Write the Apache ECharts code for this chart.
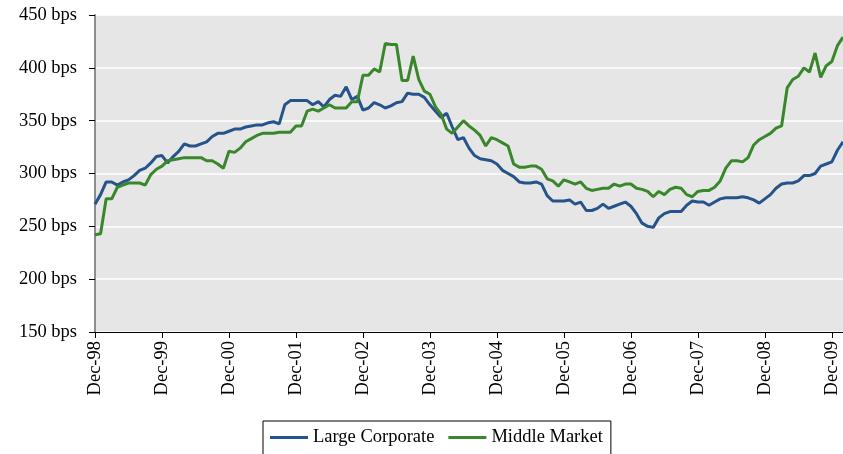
<!DOCTYPE html>
<html>
<head>
<meta charset="utf-8">
<script src="https://cdn.jsdelivr.net/npm/echarts@6/dist/echarts.min.js"></script>
<style>
html,body{margin:0;padding:0;background:#fff;}
#c{width:843px;height:454px;}
</style>
</head>
<body>
<div id="c"></div>
<script>
// Monthly series, Dec-98 .. Feb-10
var startYear = 1998, startMonth = 11; // December 1998
var monthNames = ['Jan','Feb','Mar','Apr','May','Jun','Jul','Aug','Sep','Oct','Nov','Dec'];
var yTicks = [150, 200, 250, 300, 350, 400, 450];
var seriesNames = ['Large Corporate', 'Middle Market'];

var largeCorporate = [
  271, 280, 292, 292, 289, 292, 294, 298, 303, 305, 310, 316, 317, 310, 316, 321, 328, 326, 326, 328,
  330, 335, 338, 338, 340, 342, 342, 344, 345, 346, 346, 348, 349, 347, 365,
  369, 369, 369, 369, 365, 368, 363, 370, 374, 373, 382, 370, 373, 360, 362, 367, 365, 362, 364, 367,
  368, 376, 375, 375, 372, 365, 359, 353, 357, 344, 332, 334, 324,
  317, 314, 313, 312, 309, 303, 300, 297, 292, 291, 291, 292, 290, 279, 274, 274, 274, 275, 271, 273,
  265, 265, 267, 271, 267, 269, 271, 273, 269, 262, 253, 250,
  249, 258, 262, 264, 264, 264, 270, 274, 273, 273, 270, 273, 276, 277, 277, 277, 278, 277, 275, 272,
  276, 280, 286, 290, 291, 291, 293, 298, 298, 300, 307, 309, 311, 322, 330
];
var middleMarket = [
  242, 243, 276, 276, 287, 289, 291, 291, 291, 289, 299, 304, 307, 312, 313, 314, 315, 315, 315, 315,
  312, 312, 309, 305, 321, 320, 324, 330, 333, 336, 338, 338, 338, 339, 339,
  339, 345, 345, 359, 361, 359, 362, 365, 362, 362, 362, 368, 368, 393, 393, 399, 396, 423, 422, 422,
  388, 388, 411, 389, 378, 375, 363, 356, 342, 338, 344, 350, 345,
  341, 336, 326, 334, 332, 329, 326, 309, 306, 306, 307, 307, 304, 295, 293, 288, 294, 292, 290, 292,
  286, 284, 285, 286, 286, 290, 288, 290, 290, 286, 285, 283,
  278, 283, 280, 285, 287, 286, 280, 278, 283, 284, 284, 287, 293, 305, 312, 312, 311, 315, 327, 332,
  335, 338, 343, 345, 381, 389, 392, 400, 396, 414, 391, 402, 406, 421, 429
];

var categories = [];
for (var k = 0; k < largeCorporate.length; k++) {
  var m = (startMonth + k) % 12;
  var y = startYear + Math.floor((startMonth + k) / 12);
  categories.push(monthNames[m] + '-' + String(y % 100).padStart(2, '0'));
}

var FONT = '"Liberation Serif", "Times New Roman", serif';
var chart = echarts.init(document.getElementById('c'), null, {renderer: 'canvas'});
chart.setOption({
  animation: false,
  grid: {
    left: 95, right: 0, top: 15, bottom: 122,
    show: true, backgroundColor: '#e6e6e6', borderWidth: 0
  },
  legend: {
    data: seriesNames,
    left: 263, top: 421,
    padding: [7, 8, 12, 7],
    borderColor: '#000', borderWidth: 1,
    icon: 'rect', itemWidth: 38, itemHeight: 3, itemGap: 14,
    textStyle: {fontFamily: FONT, fontSize: 18.5, color: '#000'}
  },
  xAxis: {
    type: 'category',
    data: categories,
    boundaryGap: false,
    axisLine: {show: true, lineStyle: {color: '#000', width: 1}},
    axisTick: {show: true, length: 6, lineStyle: {color: '#000'},
      interval: function (i) { return i % 12 === 0; }},
    axisLabel: {
      rotate: 90, margin: 9, color: '#000', fontFamily: FONT, fontSize: 18.5,
      interval: function (i) { return i % 12 === 0; }
    },
    splitLine: {show: false}
  },
  yAxis: {
    type: 'value',
    min: yTicks[0], max: yTicks[yTicks.length - 1], interval: 50,
    axisLine: {show: true, lineStyle: {color: '#8c8c8c', width: 2}},
    axisTick: {show: true, length: 6, lineStyle: {color: '#000'}},
    axisLabel: {
      margin: 18, color: '#000', fontFamily: FONT, fontSize: 18.5,
      formatter: function (v) { return v + ' bps'; }
    },
    splitLine: {show: true, lineStyle: {color: '#ffffff', width: 1.5}}
  },
  series: [
    {name: seriesNames[0], type: 'line', data: largeCorporate, showSymbol: false,
     lineStyle: {color: '#26538b', width: 3}, itemStyle: {color: '#26538b'}},
    {name: seriesNames[1], type: 'line', data: middleMarket, showSymbol: false,
     lineStyle: {color: '#38872b', width: 3}, itemStyle: {color: '#38872b'}}
  ]
});
</script>
</body>
</html>
